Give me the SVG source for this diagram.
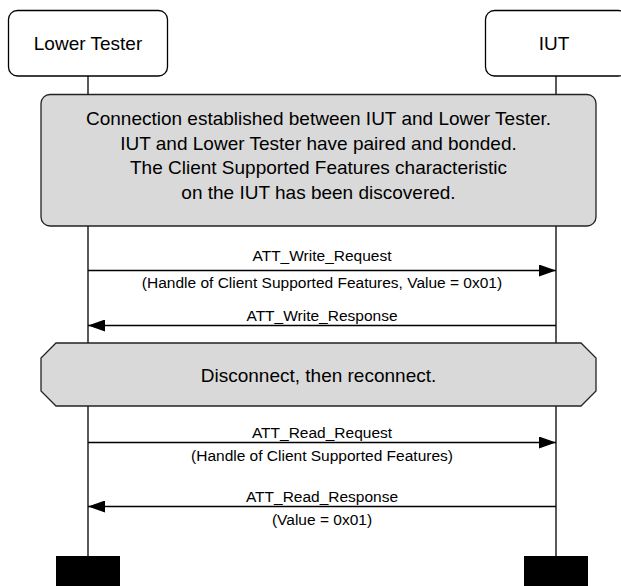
<svg xmlns="http://www.w3.org/2000/svg" width="621" height="586" viewBox="0 0 621 586">
<style>
text{font-family:"Liberation Sans",Arial,sans-serif;fill:#000;text-anchor:middle}
.actor{fill:#fff;stroke:#000;stroke-width:1.3}
.note{fill:#d9d9d9;stroke:#222;stroke-width:1.3}
.life{stroke:#000;stroke-width:1.3}
.msg{stroke:#000;stroke-width:1.3;fill:none}
.big{font-size:19px}
.lbl{font-size:15.5px}
</style>
<defs>
<marker id="ah" markerWidth="17" markerHeight="12" refX="17" refY="6" orient="auto" markerUnits="userSpaceOnUse">
<path d="M0,0 L17,6 L0,12 Z" fill="#000"/>
</marker>
</defs>
<g id="lifelines">
<line class="life" x1="88" y1="76" x2="88" y2="556"/>
<line class="life" x1="556" y1="76" x2="556" y2="556"/>
</g>
<g id="lower-tester">
<rect class="actor" x="8.5" y="10.5" width="159" height="65.5" rx="9"/>
<text class="big" x="88" y="50">Lower Tester</text>
</g>
<g id="iut">
<rect class="actor" x="485.5" y="10.5" width="142" height="65.5" rx="9"/>
<text class="big" x="554" y="50">IUT</text>
</g>
<g id="precondition">
<rect class="note" x="41" y="94.5" width="555" height="131.5" rx="9"/>
<text class="big" x="318.5" y="125">Connection established between IUT and Lower Tester.</text>
<text class="big" x="318.5" y="149.5">IUT and Lower Tester have paired and bonded.</text>
<text class="big" x="318.5" y="174">The Client Supported Features characteristic</text>
<text class="big" x="318.5" y="198.5">on the IUT has been discovered.</text>
</g>
<g id="reconnect">
<polygon class="note" points="56,343 581,343 596,358 596,391 581,406 56,406 41,391 41,358"/>
<text class="big" x="318.5" y="382">Disconnect, then reconnect.</text>
</g>
<g id="connectors">
<line class="msg" x1="88" y1="270.5" x2="556" y2="270.5" marker-end="url(#ah)"/>
<text class="lbl" x="322" y="261">ATT_Write_Request</text>
<text class="lbl" x="322" y="288">(Handle of Client Supported Features, Value = 0x01)</text>
<line class="msg" x1="556" y1="325.5" x2="88" y2="325.5" marker-end="url(#ah)"/>
<text class="lbl" x="322" y="321">ATT_Write_Response</text>
<line class="msg" x1="88" y1="442.5" x2="556" y2="442.5" marker-end="url(#ah)"/>
<text class="lbl" x="322" y="438">ATT_Read_Request</text>
<text class="lbl" x="322" y="460.5">(Handle of Client Supported Features)</text>
<line class="msg" x1="556" y1="506.5" x2="88" y2="506.5" marker-end="url(#ah)"/>
<text class="lbl" x="322" y="502">ATT_Read_Response</text>
<text class="lbl" x="322" y="525">(Value = 0x01)</text>
</g>
<g id="ends">
<rect x="56" y="556" width="64" height="30" fill="#000"/>
<rect x="524" y="556" width="64" height="30" fill="#000"/>
</g>
</svg>
